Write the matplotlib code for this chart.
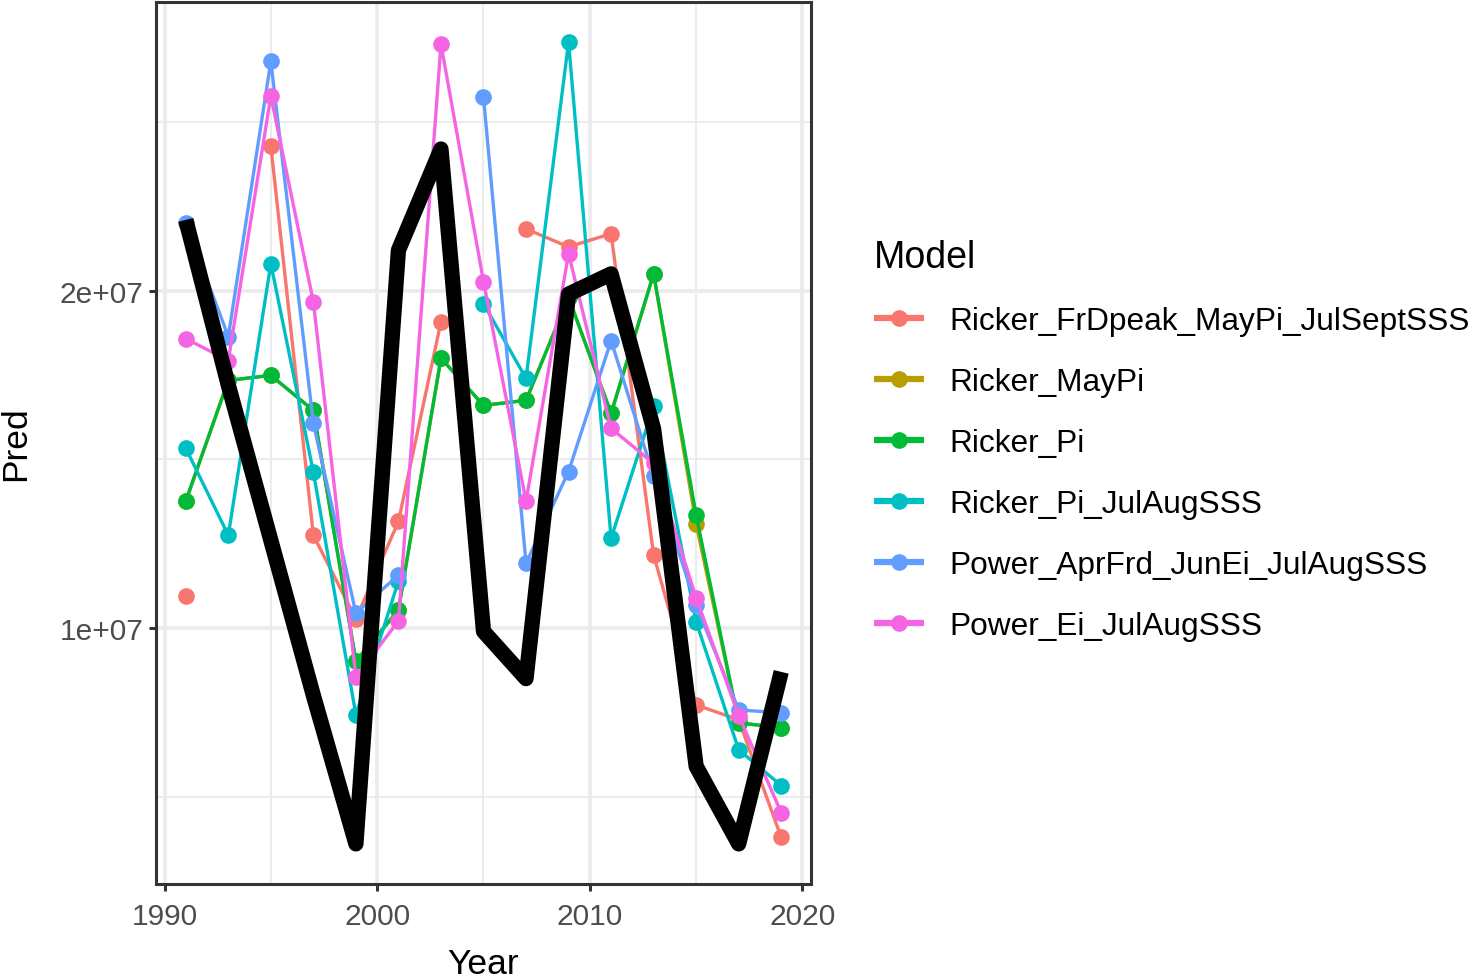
import numpy as np
import matplotlib
matplotlib.use("Agg")
import matplotlib.pyplot as plt
from matplotlib.ticker import FixedLocator, FuncFormatter

plt.rcParams["font.family"] = ["Liberation Sans", "DejaVu Sans"]

nan = np.nan
years = [1991, 1993, 1995, 1997, 1999, 2001, 2003, 2005, 2007, 2009, 2011, 2013, 2015, 2017, 2019]

models = [
    "Ricker_FrDpeak_MayPi_JulSeptSSS",
    "Ricker_MayPi",
    "Ricker_Pi",
    "Ricker_Pi_JulAugSSS",
    "Power_AprFrd_JunEi_JulAugSSS",
    "Power_Ei_JulAugSSS",
]
colors = ["#F8766D", "#B79F00", "#00BA38", "#00BFC4", "#619CFF", "#F564E3"]

ricker_frdpeak_maypi_julseptsss = [1.095e7, nan, 2.429e7, 1.275e7, 1.027e7, 1.316e7, 1.908e7, nan,
                                   2.183e7, 2.130e7, 2.169e7, 1.216e7, 0.772e7, 0.728e7, 0.379e7]
ricker_maypi = [1.376e7, 1.734e7, 1.749e7, 1.645e7, 0.902e7, 1.053e7, 1.800e7, 1.660e7,
                1.675e7, 1.980e7, 1.636e7, 2.050e7, 1.308e7, 0.719e7, 0.704e7]
ricker_pi = [1.376e7, 1.734e7, 1.749e7, 1.645e7, 0.902e7, 1.053e7, 1.800e7, 1.660e7,
             1.675e7, 1.980e7, 1.636e7, 2.050e7, 1.334e7, 0.719e7, 0.704e7]
ricker_pi_julaugsss = [1.533e7, 1.275e7, 2.080e7, 1.462e7, 0.743e7, 1.139e7, nan, 1.962e7,
                       1.740e7, 2.737e7, 1.266e7, 1.657e7, 1.018e7, 0.639e7, 0.533e7]
power_aprfrd_junei_julaugsss = [2.200e7, 1.864e7, 2.680e7, 1.607e7, 1.044e7, 1.157e7, nan, 2.574e7,
                                1.192e7, 1.464e7, 1.852e7, 1.450e7, 1.068e7, 0.757e7, 0.749e7]
power_ei_julaugsss = [1.858e7, 1.793e7, 2.577e7, 1.967e7, 0.855e7, 1.021e7, 2.731e7, 2.027e7,
                      1.376e7, 2.110e7, 1.592e7, 1.488e7, 1.089e7, 0.740e7, 0.453e7]

observed = [2.21e7, 1.72e7, 1.26e7, 0.80e7, 0.36e7, 2.12e7, 2.42e7, 0.99e7,
            0.85e7, 1.99e7, 2.05e7, 1.59e7, 0.59e7, 0.36e7, 0.87e7]

series = [ricker_frdpeak_maypi_julseptsss, ricker_maypi, ricker_pi,
          ricker_pi_julaugsss, power_aprfrd_junei_julaugsss, power_ei_julaugsss]

fig = plt.figure(figsize=(14.74, 9.78), dpi=100)
ax = fig.add_axes([156 / 1474, 1 - 885 / 978, (811 - 156) / 1474, (885 - 3) / 978])

for name, col, vals in zip(models, colors, series):
    ax.plot(years, vals, color=col, lw=2.4, marker="o", ms=12,
            markeredgewidth=0, label=name, zorder=3,
            solid_joinstyle="round", solid_capstyle="butt")

ax.plot(years, observed, color="black", lw=11, solid_joinstyle="round",
        solid_capstyle="butt", zorder=5)

# axis ranges with 5% padding like ggplot's default expansion
all_vals = np.array(series + [observed], dtype=float)
lo, hi = np.nanmin(all_vals), np.nanmax(all_vals)
pad = 0.05 * (hi - lo)
ax.set_ylim(lo - pad, hi + pad)
xpad = 0.05 * (years[-1] - years[0])
ax.set_xlim(years[0] - xpad, years[-1] + xpad)

ax.xaxis.set_major_locator(FixedLocator([1990, 2000, 2010, 2020]))
ax.xaxis.set_minor_locator(FixedLocator([1995, 2005, 2015]))
ax.yaxis.set_major_locator(FixedLocator([1e7, 2e7]))
ax.yaxis.set_minor_locator(FixedLocator([0.5e7, 1.5e7, 2.5e7]))
ax.yaxis.set_major_formatter(FuncFormatter(lambda v, p: f"{v:.0e}"))

ax.grid(which="major", color="#EBEBEB", lw=2.6, zorder=0)
ax.grid(which="minor", color="#EBEBEB", lw=1.3, zorder=0)
ax.set_axisbelow(True)

for s in ax.spines.values():
    s.set_color("#333333")
    s.set_linewidth(2.2)

ax.tick_params(which="major", length=5, width=2.2, color="#333333",
               labelsize=21.5, labelcolor="#4D4D4D")
ax.tick_params(axis="x", which="major", pad=8)
ax.tick_params(axis="y", which="major", pad=4)
ax.tick_params(which="minor", length=0)

ax.set_xlabel("Year", fontsize=25.5, labelpad=12)
ax.set_ylabel("Pred", fontsize=25.5, labelpad=20)

leg = ax.legend(title="Model", loc="upper left",
                bbox_to_anchor=(866 / 1474, 1 - 232 / 978),
                bbox_transform=fig.transFigure, frameon=False,
                fontsize=22.8, title_fontsize=27, handlelength=1.58,
                handletextpad=0.8, labelspacing=0.98, borderpad=0.25,
                borderaxespad=0)
leg._legend_box.align = "left"
for h in leg.legend_handles:
    h.set_linewidth(4.5)

fig.savefig("out.png", dpi=100, facecolor="white")
